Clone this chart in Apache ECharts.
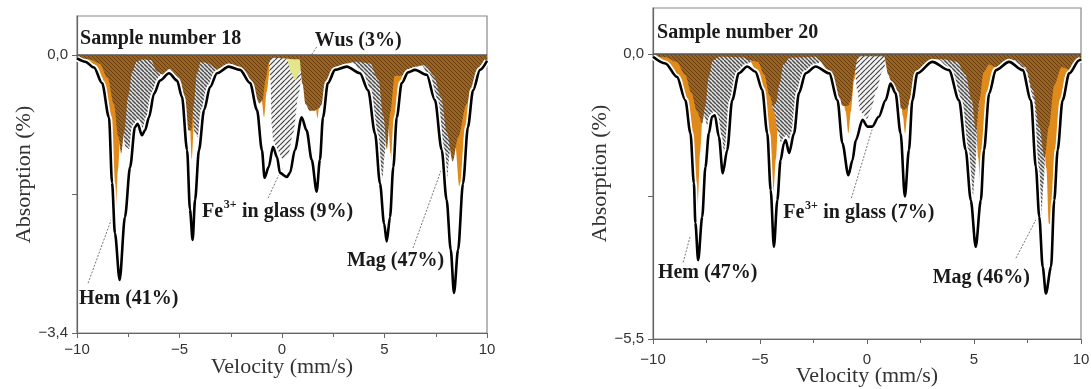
<!DOCTYPE html>
<html>
<head>
<meta charset="utf-8">
<script src="https://cdn.jsdelivr.net/npm/echarts@6/dist/echarts.min.js"></script>
<style>
  html, body { margin: 0; padding: 0; background: #fff; }
  #chart { width: 1091px; height: 389px; }
</style>
</head>
<body>
<div id="chart"></div>
<script>
// ---- sample 18 (left panel), velocity mm/s vs absorption % ----
var env18 = [[-10,-0.04],[-9.6,-0.08],[-9.17,-0.15],[-8.78,-0.34],[-8.44,-0.76],[-8.29,-1.56],[-8.15,-2.18],[-7.92,-2.75],[-7.66,-1.98],[-7.41,-1.37],[-7.17,-0.88],[-7.04,-0.84],[-6.83,-0.98],[-6.68,-0.92],[-6.49,-0.76],[-6.24,-0.47],[-5.95,-0.31],[-5.51,-0.22],[-5.12,-0.31],[-4.88,-0.51],[-4.63,-1.16],[-4.49,-1.89],[-4.36,-2.26],[-4.24,-1.77],[-4.05,-1.16],[-3.8,-0.67],[-3.51,-0.39],[-3.17,-0.22],[-2.6,-0.14],[-2.05,-0.18],[-1.56,-0.34],[-1.22,-0.67],[-0.98,-1.16],[-0.85,-1.5],[-0.65,-1.37],[-0.44,-1.12],[-0.24,-1.25],[-0.1,-1.44],[0.24,-1.49],[0.39,-1.44],[0.63,-1.16],[0.96,-0.76],[1.2,-0.92],[1.45,-1.28],[1.69,-1.67],[1.85,-1.28],[2.0,-0.76],[2.24,-0.34],[2.59,-0.18],[3.16,-0.14],[3.8,-0.22],[4.2,-0.43],[4.54,-0.96],[4.78,-1.57],[4.98,-2.06],[5.11,-2.28],[5.27,-1.98],[5.43,-1.37],[5.6,-0.76],[5.84,-0.34],[6.15,-0.21],[6.49,-0.18],[7.06,-0.24],[7.46,-0.55],[7.79,-1.16],[8.03,-1.77],[8.23,-2.38],[8.39,-2.91],[8.59,-2.38],[8.83,-1.57],[9.07,-0.88],[9.32,-0.43],[9.66,-0.18],[10,-0.07]];
var hem18 = [[-10,-0.02],[-9.6,-0.05],[-9.17,-0.11],[-8.78,-0.27],[-8.5,-0.55],[-8.35,-1.0],[-8.22,-1.5],[-8.1,-1.86],[-8.0,-1.4],[-7.85,-0.8],[-7.65,-0.35],[-7.4,-0.12],[-7.0,-0.04],[-6.5,-0.01],[-5.0,-0.02],[-4.7,-0.2],[-4.52,-0.7],[-4.4,-1.28],[-4.28,-0.8],[-4.1,-0.3],[-3.8,-0.05],[-3.3,-0.01],[-1.6,-0.02],[-1.25,-0.2],[-1.02,-0.5],[-0.87,-0.76],[-0.75,-0.45],[-0.55,-0.1],[-0.3,-0.01],[1.0,-0.01],[1.35,-0.15],[1.58,-0.45],[1.73,-0.77],[1.87,-0.5],[2.05,-0.2],[2.4,-0.03],[4.5,-0.02],[4.9,-0.2],[5.15,-0.7],[5.3,-1.2],[5.37,-1.49],[5.45,-1.22],[5.6,-0.7],[5.84,-0.3],[6.1,-0.12],[6.5,-0.03],[7.3,-0.02],[7.8,-0.2],[8.2,-0.6],[8.45,-1.1],[8.65,-1.61],[8.8,-1.5],[9.0,-1.0],[9.25,-0.5],[9.5,-0.25],[9.8,-0.1],[10,-0.05]];
var mag18 = [[-10,0],[-8.8,-0.02],[-8.3,-0.2],[-7.95,-0.6],[-7.62,-1.12],[-7.45,-1.15],[-7.3,-1.0],[-7.12,-0.8],[-7.0,-0.78],[-6.85,-0.9],[-6.7,-0.86],[-6.5,-0.7],[-6.25,-0.42],[-6.0,-0.26],[-5.7,-0.16],[-5.3,-0.05],[-5.0,-0.02],[-4.7,-0.15],[-4.45,-0.5],[-4.25,-0.95],[-4.12,-1.0],[-4.0,-0.95],[-3.8,-0.6],[-3.5,-0.34],[-3.17,-0.18],[-2.8,-0.08],[-2.4,-0.02],[3.0,-0.02],[3.5,-0.1],[3.8,-0.18],[4.2,-0.38],[4.5,-0.82],[4.72,-1.35],[4.9,-1.5],[5.02,-1.2],[5.15,-0.5],[5.35,-0.08],[5.6,-0.01],[6.3,-0.02],[6.8,-0.12],[7.1,-0.22],[7.46,-0.5],[7.75,-1.05],[7.95,-1.45],[8.05,-1.52],[8.18,-1.2],[8.35,-0.5],[8.6,-0.08],[8.9,-0.01],[10,0]];
var glass18 = [[-0.65,0],[-0.56,-0.3],[-0.5,-0.85],[-0.42,-1.05],[-0.25,-1.15],[0.05,-1.27],[0.3,-1.22],[0.55,-0.95],[0.8,-0.5],[1.0,-0.2],[1.25,-0.05],[1.6,0]];
var wus18 = [[0.05,0],[0.25,-0.06],[0.45,-0.22],[0.65,-0.3],[0.85,-0.22],[1.05,-0.08],[1.3,0]];
var mix18 = [[-10,-0.03],[-9.4,-0.05],[-8.9,-0.1],[-8.5,-0.28],[-8.2,-0.6],[-7.98,-1.0],[-7.84,-1.2],[-7.7,-0.95],[-7.5,-0.5],[-7.3,-0.2],[-7.1,-0.08],[-6.8,-0.05],[-6.4,-0.06],[-6.1,-0.2],[-5.8,-0.24],[-5.5,-0.17],[-5.12,-0.26],[-4.88,-0.45],[-4.7,-0.85],[-4.55,-0.92],[-4.42,-0.92],[-4.3,-0.6],[-4.15,-0.22],[-3.95,-0.08],[-3.6,-0.1],[-3.17,-0.17],[-2.6,-0.1],[-2.05,-0.14],[-1.56,-0.29],[-1.3,-0.5],[-1.1,-0.59],[-0.95,-0.55],[-0.8,-0.3],[-0.65,-0.1],[-0.5,-0.03],[0.85,-0.05],[1.0,-0.35],[1.15,-0.6],[1.35,-0.68],[1.6,-0.68],[1.8,-0.65],[1.95,-0.6],[2.1,-0.45],[2.24,-0.29],[2.59,-0.14],[3.16,-0.1],[3.6,-0.08],[4.3,-0.1],[4.7,-0.3],[4.95,-0.75],[5.12,-1.15],[5.28,-0.7],[5.5,-0.25],[5.84,-0.25],[6.15,-0.17],[6.49,-0.14],[7.0,-0.12],[7.4,-0.25],[7.75,-0.5],[8.05,-0.95],[8.33,-1.3],[8.6,-1.0],[9.0,-0.6],[9.32,-0.37],[9.66,-0.14],[10,-0.05]];

// ---- sample 20 (right panel) ----
var env20 = [[-10,-0.05],[-9.42,-0.18],[-8.88,-0.44],[-8.49,-0.89],[-8.25,-1.53],[-8.09,-2.49],[-8.02,-3.26],[-7.89,-3.98],[-7.7,-3.14],[-7.55,-2.18],[-7.39,-1.53],[-7.24,-1.21],[-7.11,-1.18],[-6.92,-1.6],[-6.74,-2.3],[-6.53,-1.85],[-6.3,-0.89],[-5.99,-0.37],[-5.6,-0.24],[-5.21,-0.34],[-4.9,-0.69],[-4.66,-1.53],[-4.5,-2.63],[-4.35,-3.72],[-4.19,-2.82],[-4.04,-2.05],[-3.88,-1.72],[-3.8,-1.66],[-3.64,-1.91],[-3.41,-1.53],[-3.18,-0.75],[-2.87,-0.37],[-2.4,-0.24],[-1.77,-0.37],[-1.38,-0.89],[-1.15,-1.72],[-0.87,-2.34],[-0.68,-2.05],[-0.52,-1.66],[-0.21,-1.27],[0.02,-1.4],[0.24,-1.4],[0.55,-1.21],[0.87,-0.89],[1.1,-0.57],[1.33,-0.75],[1.57,-1.53],[1.77,-2.75],[1.96,-1.85],[2.12,-0.89],[2.35,-0.37],[3.05,-0.15],[3.83,-0.31],[4.3,-0.89],[4.61,-1.85],[4.85,-2.82],[5.08,-3.72],[5.32,-2.82],[5.47,-1.85],[5.71,-0.76],[6.02,-0.31],[6.64,-0.15],[7.27,-0.31],[7.66,-0.89],[7.89,-2.18],[8.05,-3.14],[8.21,-4.11],[8.36,-4.62],[8.6,-4.11],[8.75,-2.82],[8.91,-1.85],[9.14,-0.89],[9.45,-0.37],[9.92,-0.12],[10,-0.1]];
var hem20 = [[-10,-0.03],[-9.42,-0.14],[-8.88,-0.38],[-8.5,-0.8],[-8.28,-1.35],[-8.14,-2.1],[-8.06,-2.8],[-7.98,-3.33],[-7.9,-2.8],[-7.8,-1.9],[-7.65,-1.0],[-7.45,-0.45],[-7.2,-0.15],[-6.8,-0.04],[-6.3,-0.01],[-5.6,-0.05],[-5.2,-0.28],[-4.9,-0.62],[-4.68,-1.4],[-4.52,-2.3],[-4.38,-2.69],[-4.25,-2.0],[-4.12,-1.0],[-3.95,-0.4],[-3.6,-0.08],[-3.2,-0.01],[-1.9,-0.02],[-1.5,-0.15],[-1.2,-0.55],[-1.0,-1.1],[-0.87,-1.53],[-0.75,-1.1],[-0.6,-0.5],[-0.4,-0.12],[-0.1,-0.02],[1.0,-0.02],[1.35,-0.2],[1.55,-0.7],[1.68,-1.2],[1.78,-1.53],[1.88,-1.2],[2.0,-0.7],[2.2,-0.25],[2.5,-0.04],[4.3,-0.02],[4.8,-0.3],[5.05,-1.0],[5.2,-2.0],[5.3,-2.7],[5.38,-2.35],[5.47,-1.72],[5.6,-1.1],[5.71,-0.68],[5.85,-0.45],[6.02,-0.26],[6.3,-0.12],[6.7,-0.04],[7.4,-0.05],[7.9,-0.3],[8.2,-1.0],[8.38,-2.2],[8.5,-3.27],[8.62,-3.3],[8.72,-2.8],[8.82,-2.2],[8.91,-1.75],[9.0,-1.35],[9.14,-0.82],[9.3,-0.55],[9.45,-0.33],[9.7,-0.18],[10,-0.08]];
var mag20 = [[-10,0],[-8.6,-0.05],[-8.2,-0.3],[-7.9,-0.8],[-7.6,-1.2],[-7.45,-1.4],[-7.3,-1.25],[-7.17,-1.1],[-7.05,-1.15],[-6.92,-1.5],[-6.8,-2.05],[-6.7,-2.1],[-6.58,-1.75],[-6.45,-1.3],[-6.3,-0.82],[-6.15,-0.55],[-5.99,-0.32],[-5.6,-0.19],[-5.2,-0.08],[-4.9,-0.2],[-4.6,-0.6],[-4.35,-1.1],[-4.15,-1.5],[-4.02,-1.7],[-3.88,-1.6],[-3.75,-1.55],[-3.64,-1.78],[-3.5,-1.6],[-3.41,-1.43],[-3.3,-1.1],[-3.18,-0.68],[-3.0,-0.46],[-2.87,-0.33],[-2.4,-0.2],[-2.0,-0.1],[-1.7,-0.03],[2.8,-0.03],[3.3,-0.1],[3.83,-0.26],[4.1,-0.55],[4.3,-0.82],[4.48,-1.35],[4.61,-1.72],[4.75,-2.3],[4.85,-2.7],[4.93,-2.85],[5.05,-2.3],[5.18,-1.2],[5.35,-0.4],[5.6,-0.08],[6.6,-0.05],[7.0,-0.18],[7.27,-0.27],[7.5,-0.55],[7.66,-0.82],[7.8,-1.5],[7.9,-2.05],[8.03,-2.85],[8.13,-3.27],[8.25,-2.5],[8.4,-1.4],[8.6,-0.5],[8.9,-0.1],[10,0]];
var glass20 = [[-0.7,0],[-0.6,-0.2],[-0.45,-0.7],[-0.32,-1.1],[-0.2,-1.15],[0.0,-1.25],[0.2,-1.05],[0.45,-0.7],[0.7,-0.35],[0.95,-0.12],[1.2,-0.03],[1.5,0]];
var mix20 = [[-10,-0.04],[-9.4,-0.06],[-8.9,-0.15],[-8.5,-0.4],[-8.2,-0.75],[-7.95,-1.1],[-7.7,-1.34],[-7.55,-1.0],[-7.4,-0.45],[-7.2,-0.12],[-6.9,-0.05],[-5.8,-0.06],[-5.5,-0.12],[-5.1,-0.15],[-4.8,-0.4],[-4.55,-0.8],[-4.38,-1.0],[-4.25,-0.95],[-4.1,-0.6],[-3.9,-0.2],[-3.6,-0.07],[-2.4,-0.05],[-1.77,-0.32],[-1.5,-0.65],[-1.3,-0.95],[-1.1,-1.0],[-0.9,-1.0],[-0.75,-0.9],[-0.6,-0.4],[-0.45,-0.1],[-0.3,-0.04],[0.8,-0.04],[1.0,-0.4],[1.1,-0.5],[1.2,-0.6],[1.45,-1.0],[1.6,-1.05],[1.7,-1.08],[1.85,-1.05],[2.0,-0.95],[2.12,-0.78],[2.35,-0.32],[3.05,-0.1],[3.6,-0.1],[4.2,-0.15],[4.6,-0.4],[4.9,-0.9],[5.1,-1.5],[5.25,-0.9],[5.45,-0.35],[5.7,-0.2],[6.02,-0.25],[6.64,-0.11],[7.0,-0.12],[7.4,-0.25],[7.75,-0.7],[8.05,-1.4],[8.3,-2.0],[8.5,-1.4],[8.75,-0.6],[9.1,-0.25],[9.45,-0.3],[9.92,-0.09],[10,-0.07]];

// axis ranges / ticks
var yMin18 = -3.4, yMax18 = 0.48, yStep18 = 1.7;
var yMin20 = -5.5, yMax20 = 0.89, yStep20 = 2.75;

// annotations in data coordinates
var notes18 = [
  { text: 'Sample number 18', at: [-9.85, 0.2] },
  { text: 'Wus (3%)', at: [1.6, 0.18] },
  { text: 'Hem (41%)', at: [-9.9, -2.98] },
  { text: 'Mag (47%)', at: [3.17, -2.52] }
];
var fe18 = { text: ' in glass (9%)', at: [-3.9, -1.92] };
var leads18 = [[[1.69, 0.1], [0.88, -0.2]], [[-0.68, -1.75], [0.0, -1.38]], [[-9.46, -2.79], [-8.15, -1.89]], [[6.39, -2.36], [7.76, -1.41]]];

var notes20 = [
  { text: 'Sample number 20', at: [-9.81, 0.41] },
  { text: 'Hem (47%)', at: [-9.77, -4.23] },
  { text: 'Mag (46%)', at: [3.07, -4.31] }
];
var fe20 = { text: ' in glass (7%)', at: [-3.91, -3.07] };
var leads20 = [[[-8.59, -4.02], [-8.27, -3.53]], [[-0.73, -2.78], [0.3, -1.37]], [[6.96, -3.94], [7.89, -3.2]]];

var serif = '"Liberation Serif", "Times New Roman", serif';
var sans = '"Liberation Sans", Arial, sans-serif';

function hatch(bg, fg, step, dir, lw) {
  var c = document.createElement('canvas');
  c.width = c.height = step;
  var g = c.getContext('2d');
  g.fillStyle = bg;
  g.fillRect(0, 0, step, step);
  g.strokeStyle = fg;
  g.lineWidth = lw;
  g.beginPath();
  for (var k = -step; k <= step; k += step) {
    if (dir > 0) { g.moveTo(k, step); g.lineTo(k + step, 0); }
    else { g.moveTo(k, 0); g.lineTo(k + step, step); }
  }
  g.stroke();
  return { image: c, repeat: 'repeat' };
}

var ORANGE = '#e08a1c';
var YELLOW = '#e3e68a';
var BROWN = hatch('#98621f', '#6a3e10', 4, -1, 1);
var MAG = hatch('#e4e4e4', '#4a4a4a', 4, -1, 1.4);
var GLASS = hatch('#f4f4f4', '#444444', 5, 1, 1.2);

function fill(data, color, gi) {
  return {
    type: 'line', xAxisIndex: gi, yAxisIndex: gi, data: data,
    smooth: 0.3, smoothMonotone: 'x', showSymbol: false, symbol: 'none', silent: true,
    lineStyle: { width: 0 }, areaStyle: { color: color, opacity: 1 }
  };
}
function curve(data, gi, color, width, withBase) {
  var s = {
    type: 'line', xAxisIndex: gi, yAxisIndex: gi, data: data,
    smooth: 0.3, smoothMonotone: 'x', showSymbol: false, symbol: 'none', silent: true,
    lineStyle: { color: color, width: width }
  };
  if (withBase) {
    s.markLine = { silent: true, symbol: 'none', label: { show: false },
      lineStyle: { color: '#555', width: 1.6, type: 'solid' }, data: [{ yAxis: 0 }] };
  }
  return s;
}

function xAxis(gi, margin, gap) {
  return {
    type: 'value', gridIndex: gi, min: -10, max: 10, interval: 5,
    axisLine: { onZero: false, lineStyle: { color: '#666', width: 1.2 } },
    axisTick: { length: 5, lineStyle: { color: '#666' } },
    minorTick: { show: true, splitNumber: 2, length: 4, lineStyle: { color: '#666' } },
    splitLine: { show: false },
    axisLabel: { margin: margin, fontFamily: sans, fontSize: 15, color: '#333',
      formatter: function (v) { return v < 0 ? '\u2212' + Math.abs(v) : '' + v; } },
    name: 'Velocity (mm/s)', nameLocation: 'middle', nameGap: gap, nameMoveOverlap: false,
    nameTextStyle: { fontFamily: serif, fontSize: 22, color: '#333' }
  };
}
function yAxis(gi, min, max, step) {
  return {
    type: 'value', gridIndex: gi, min: min, max: max, interval: step,
    axisLine: { show: true, onZero: false, lineStyle: { color: '#666', width: 1.2 } },
    axisTick: { show: true, length: 5, lineStyle: { color: '#666' }, customValues: [min, min + step, 0] },
    splitLine: { show: false },
    axisLabel: { margin: 9, fontFamily: sans, fontSize: 15, color: '#333', customValues: [min, 0],
      formatter: function (v) {
        if (Math.abs(v) < 1e-6) return '0,0';
        if (Math.abs(v - min) < 1e-6) return '\u2212' + Math.abs(v).toFixed(1).replace('.', ',');
        return '';
      } },
    name: 'Absorption (%)', nameLocation: 'middle', nameGap: 42, nameMoveOverlap: false,
    nameTextStyle: { fontFamily: serif, fontSize: 22, color: '#333' }
  };
}

var chart = echarts.init(document.getElementById('chart'));
chart.setOption({
  animation: false,
  backgroundColor: '#fff',
  grid: [
    { left: 77, top: 16, width: 410, height: 317, show: true, borderColor: '#888', borderWidth: 1.2, backgroundColor: 'transparent', outerBoundsMode: 'none', containLabel: false },
    { left: 653, top: 8, width: 428, height: 331, show: true, borderColor: '#888', borderWidth: 1.2, backgroundColor: 'transparent', outerBoundsMode: 'none', containLabel: false }
  ],
  xAxis: [xAxis(0, 9, 23), xAxis(1, 13, 26)],
  yAxis: [yAxis(0, yMin18, yMax18, yStep18), yAxis(1, yMin20, yMax20, yStep20)],
  series: [
    fill(hem18, ORANGE, 0), fill(mag18, MAG, 0), fill(glass18, GLASS, 0), fill(wus18, YELLOW, 0), fill(mix18, BROWN, 0),
    curve(env18, 0, '#fff', 6, false), curve(env18, 0, '#000', 2.6, true),
    fill(hem20, ORANGE, 1), fill(mag20, MAG, 1), fill(glass20, GLASS, 1), fill(mix20, BROWN, 1),
    curve(env20, 1, '#fff', 6, false), curve(env20, 1, '#000', 2.6, true)
  ]
});

// annotations placed through the chart's own coordinate conversion
var bold = 'bold 20px ' + serif;
var small = 'bold 12px ' + serif;
var meas = document.createElement('canvas').getContext('2d');
function textW(font, s) { meas.font = font; return meas.measureText(s).width; }
function txt(x, y, s, font) {
  return { type: 'text', x: x, y: y, silent: true,
    style: { text: s, font: font, fill: '#1a1a1a', align: 'left', verticalAlign: 'middle', textAlign: 'left', textVerticalAlign: 'middle' } };
}
function annotate(gi, notes, fe, leads) {
  var out = [];
  notes.forEach(function (n) {
    var p = chart.convertToPixel({ gridIndex: gi }, n.at);
    out.push(txt(p[0], p[1], n.text, bold));
  });
  var p = chart.convertToPixel({ gridIndex: gi }, fe.at);
  var w1 = textW(bold, 'Fe');
  out.push(txt(p[0], p[1], 'Fe', bold));
  out.push(txt(p[0] + w1 + 0.5, p[1] - 7, '3+', small));
  out.push(txt(p[0] + w1 + textW(small, '3+') + 1, p[1], fe.text, bold));
  leads.forEach(function (l) {
    var a = chart.convertToPixel({ gridIndex: gi }, l[0]);
    var b = chart.convertToPixel({ gridIndex: gi }, l[1]);
    out.push({ type: 'line', silent: true, shape: { x1: a[0], y1: a[1], x2: b[0], y2: b[1] },
      style: { stroke: '#555', lineWidth: 0.8, lineDash: [2, 1.5] } });
  });
  return out;
}
chart.setOption({ graphic: annotate(0, notes18, fe18, leads18).concat(annotate(1, notes20, fe20, leads20)) });
</script>
</body>
</html>
